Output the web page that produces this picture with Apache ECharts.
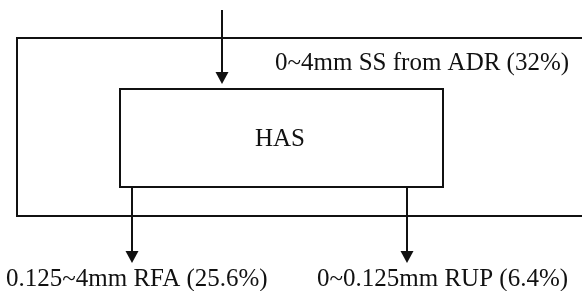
<!DOCTYPE html>
<html>
<head>
<meta charset="utf-8">
<script src="https://cdn.jsdelivr.net/npm/echarts@6/dist/echarts.min.js"></script>
<style>html,body{margin:0;padding:0;background:#fff}#c{width:582px;height:291px}</style>
</head>
<body>
<div id="c"></div>
<script>
// Labels of the diagram
var boxLabels = ['HAS'];
var flowLabels = ['0~4mm SS from ADR (32%)', '0.125~4mm RFA (25.6%)', '0~0.125mm RUP (6.4%)'];
var flowShares = [32, 25.6, 6.4];

// Layout (diagram units = pixels on a hidden 582x291 axis frame)
var outerBox = [17, 38, 600, 216];   // x0, y0, x1, y1
var innerBox = [120, 89, 443, 187];
var arrows = [ [222, 10, 222, 84], [132, 187, 132, 263], [407, 187, 407, 263] ];
var labelPos = [ [275, 63], [6, 279], [317, 279] ];   // vertical centre of text
var boxLabelPos = [280, 139];

var FONT = '"Liberation Serif", "Times New Roman", serif';
var chart = echarts.init(document.getElementById('c'));

function renderItem(params, api) {
  var kids = [];
  function P(x, y) { return api.coord([x, y]); }
  function rect(b) {
    var a = P(b[0], b[1]), c = P(b[2], b[3]);
    return { type: 'rect', shape: { x: a[0], y: a[1], width: c[0] - a[0], height: c[1] - a[1] },
      style: { fill: 'none', stroke: '#111', lineWidth: 2 } };
  }
  kids.push(rect(outerBox));
  kids.push(rect(innerBox));
  arrows.forEach(function (ar) {
    var s = P(ar[0], ar[1]), e = P(ar[2], ar[3]);
    var hl = 12, hw = 6.5;
    kids.push({ type: 'line', shape: { x1: s[0], y1: s[1], x2: e[0], y2: e[1] - hl + 1 },
      style: { stroke: '#111', lineWidth: 2 } });
    kids.push({ type: 'polygon', shape: { points: [[e[0] - hw, e[1] - hl], [e[0] + hw, e[1] - hl], [e[0], e[1]]] },
      style: { fill: '#111' } });
  });
  flowLabels.forEach(function (t, i) {
    var p = P(labelPos[i][0], labelPos[i][1]);
    kids.push({ type: 'text', x: p[0], y: p[1],
      style: { text: t, font: '25px ' + FONT, fill: '#111', textAlign: 'left', textVerticalAlign: 'middle' } });
  });
  var bp = P(boxLabelPos[0], boxLabelPos[1]);
  kids.push({ type: 'text', x: bp[0], y: bp[1],
    style: { text: boxLabels[0], font: '25px ' + FONT, fill: '#111', textAlign: 'center', textVerticalAlign: 'middle' } });
  return { type: 'group', children: kids };
}

chart.setOption({
  animation: false,
  grid: { left: 0, right: 0, top: 0, bottom: 0 },
  xAxis: { type: 'value', min: 0, max: 582, show: false },
  yAxis: { type: 'value', min: 0, max: 291, inverse: true, show: false },
  series: [{ type: 'custom', coordinateSystem: 'cartesian2d', renderItem: renderItem, data: [[0, 0]], clip: false }]
});
</script>
</body>
</html>
